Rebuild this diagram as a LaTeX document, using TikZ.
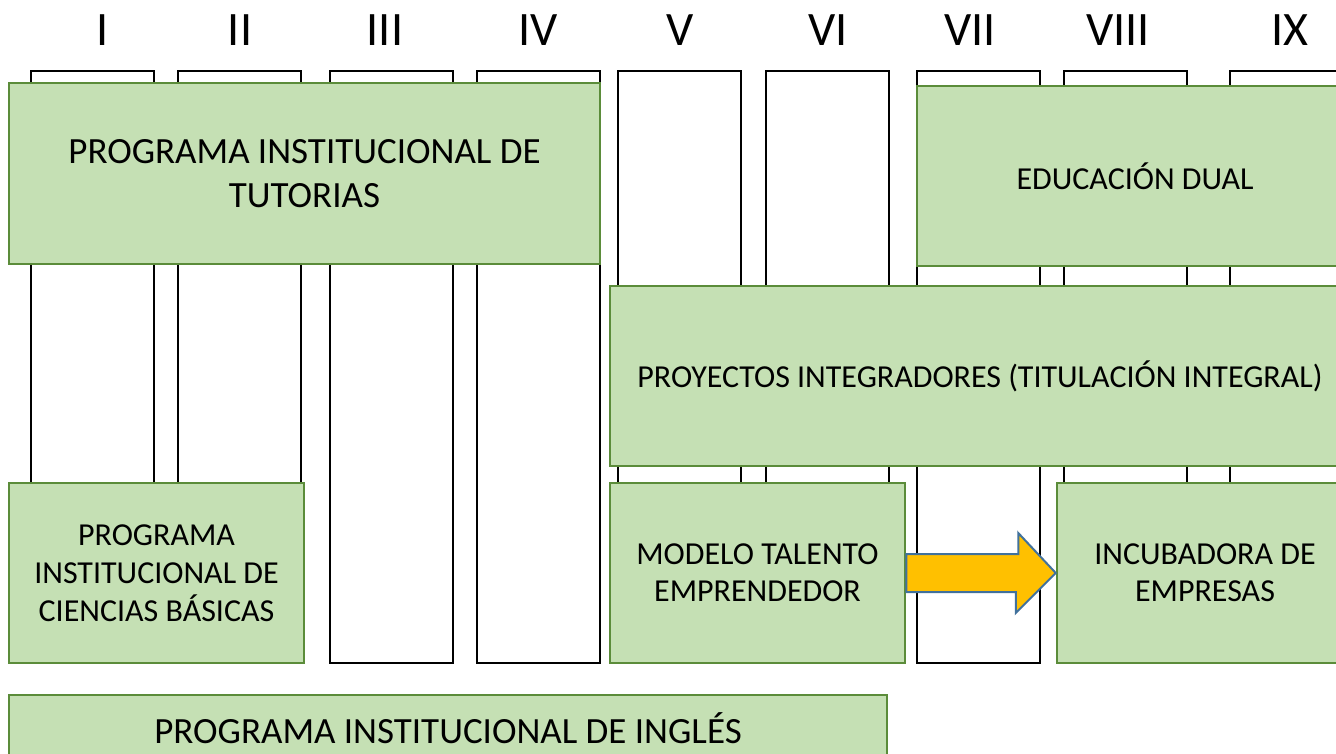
\documentclass[tikz,border=0pt]{standalone}
\usepackage{fontspec}
\setmainfont{Carlito}
\definecolor{boxfill}{HTML}{C5E0B4}
\definecolor{boxline}{HTML}{5B8C3A}
\definecolor{arrowfill}{HTML}{FFC000}
\definecolor{arrowline}{HTML}{41719C}
\usetikzlibrary{calc}
\tikzstyle{semester}=[draw=black,line width=2pt,fill=white]
\tikzstyle{program}=[draw=boxline,fill=boxfill,line width=2.5pt,align=center,inner sep=0pt]
\tikzstyle{bigarrow}=[draw=arrowline,fill=arrowfill,line width=2pt,line join=miter]

\begin{document}
\begin{tikzpicture}[x=1pt,y=-1pt]
        \useasboundingbox (0,0) rectangle (1336,754);
        \foreach \x/\lx/\lab [count=\i] in {31/103/I,178/240/II,330/385/III,477/538/IV,618/680/V,766/828/VI,917/970/VII,1064/1118/VIII,1230/1290/IX}{
          \draw[semester] (\x,71) rectangle (\x+123,663);
          \node[font=\fontsize{48}{54}\selectfont] (num\i) at (\lx,30) {\lab};
        }

        \node[program,minimum width=591pt,minimum height=181pt,font=\fontsize{37}{44}\selectfont] (tutorias) at (304.5,173.5)
          {PROGRAMA INSTITUCIONAL DE\\TUTORIAS};
        \node[program,minimum width=436pt,minimum height=180pt,font=\fontsize{32}{38}\selectfont] (dual) at (1135,176)
          {EDUCACIÓN DUAL};
        \node[program,minimum width=740pt,minimum height=180pt,font=\fontsize{32}{38}\selectfont] (proyectos) at (980,376)
          {PROYECTOS INTEGRADORES (TITULACIÓN INTEGRAL)};
        \node[program,minimum width=295pt,minimum height=180pt,font=\fontsize{32}{38}\selectfont] (basicas) at (156.5,573)
          {PROGRAMA\\INSTITUCIONAL DE\\CIENCIAS BÁSICAS};
        \node[program,minimum width=295pt,minimum height=180pt,font=\fontsize{32}{37}\selectfont] (talento) at (757.5,573)
          {MODELO TALENTO\\EMPRENDEDOR};
        \node[program,minimum width=296pt,minimum height=180pt,font=\fontsize{32}{37}\selectfont] (incubadora) at (1205,573)
          {INCUBADORA DE\\EMPRESAS};
        \node[program,minimum width=878pt,minimum height=66pt,font=\fontsize{37}{44}\selectfont] (ingles) at (448,728)
          {PROGRAMA INSTITUCIONAL DE INGLÉS};

        % block arrow from talento to incubadora
        \draw[bigarrow] ($(talento.east)+(0,-19)$) -- ++(112,0) -- ++(0,-21) -- (incubadora.west)
          -- ($(incubadora.west)+(-40,40)$) -- ++(0,-21) -- ($(talento.east)+(0,19)$) -- cycle;

      \end{tikzpicture}
\end{document}
